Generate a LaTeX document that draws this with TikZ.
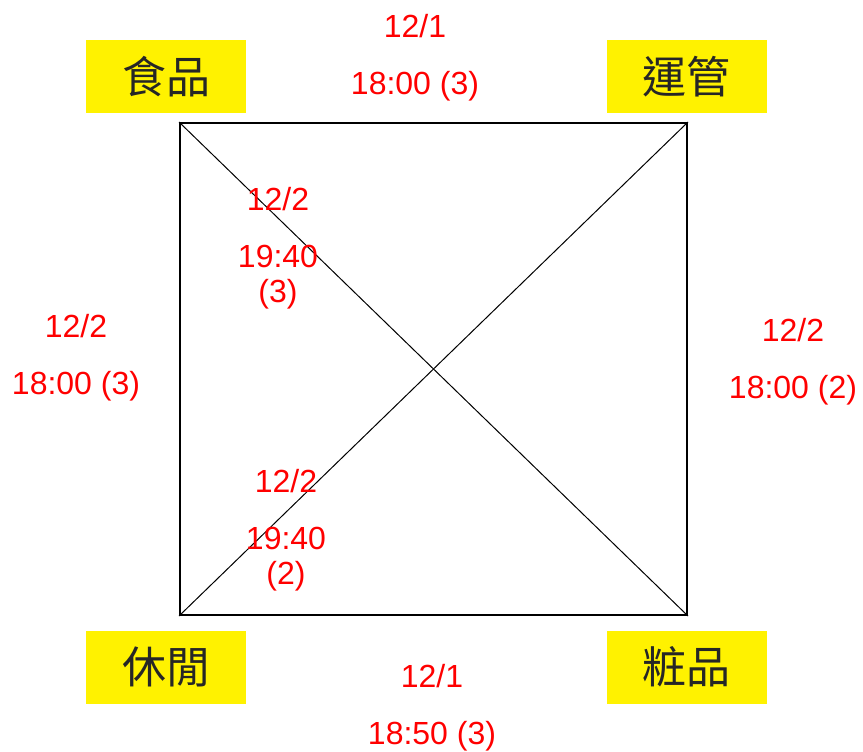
\documentclass[tikz,border=0pt]{standalone}
\usepackage{fontspec}
\setmainfont{Liberation Sans}
\newfontfamily\cjk{Noto Sans CJK TC}

\tikzset{
	dept/.style = {fill = yellow, text = black!85, minimum width=120pt, minimum height=54.75pt, inner sep=0pt, font=\cjk\fontsize{33}{36}\selectfont},
	time/.style = {text = red, align=center, inner sep=0pt, font=\fontsize{24}{26.25}\selectfont}
}

\begin{document}
\begin{tikzpicture}[x=0.75pt, y=-0.75pt]

	\useasboundingbox (0,0) rectangle (863,752);

	\node[draw, line width=1.5pt, minimum width=380.25pt, minimum height=369pt, inner sep=0pt] (sq) at (433.5,369) {};
	\draw[line width=0.75pt] (sq.north west) -- (sq.south east);
	\draw[line width=0.75pt] (sq.south west) -- (sq.north east);

	\node[dept] (food) at (166,77) {食品};
	\node[dept] (ops) at (686.5,77) {運管};
	\node[dept] (leisure) at (166,667) {休閒};
	\node[dept] (beauty) at (686.5,667) {粧品};

	\node[time] (top) at (415,57.5) {12/1\\[16.5pt]18:00 (3)};
	\node[time] (bottom) at (432,708) {12/1\\[16.5pt]18:50 (3)};
	\node[time] (left) at (76,358) {12/2\\[16.5pt]18:00 (3)};
	\node[time] (right) at (793,361.5) {12/2\\[16.5pt]18:00 (2)};
	\node[time] (diagA) at (278,248) {12/2\\[16.5pt]19:40\\(3)};
	\node[time] (diagB) at (286,530) {12/2\\[16.5pt]19:40\\(2)};

\end{tikzpicture}
\end{document}
